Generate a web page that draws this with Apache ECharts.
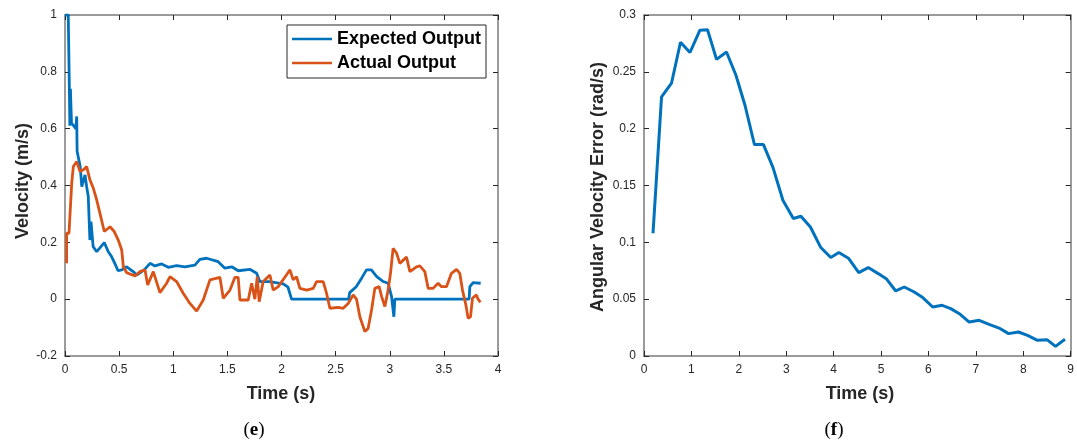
<!DOCTYPE html>
<html>
<head>
<meta charset="utf-8">
<script src="https://cdn.jsdelivr.net/npm/echarts@6/dist/echarts.min.js"></script>
<style>
html,body{margin:0;padding:0;background:#fff;}
#chart{width:1077px;height:441px;}
</style>
</head>
<body>
<div id="chart"></div>
<script>
// ---- Data: panel (e) velocity ----
var expectedTime = [0, 0.03, 0.04, 0.045, 0.05, 0.06, 0.10, 0.108, 0.112, 0.14, 0.155, 0.185, 0.20, 0.215, 0.23, 0.24, 0.26, 0.293, 0.363, 0.40, 0.43, 0.46, 0.49, 0.524, 0.57, 0.63, 0.662, 0.732, 0.785, 0.831, 0.893, 0.954, 1.031, 1.108, 1.20, 1.246, 1.308, 1.415, 1.477, 1.54, 1.60, 1.708, 1.77, 1.80, 1.89, 2.016, 2.06, 2.093, 2.62, 2.63, 2.69, 2.74, 2.785, 2.83, 2.88, 2.94, 2.985, 3.017, 3.038, 3.047, 3.733, 3.74, 3.77, 3.84];
var expectedVel = [1.0, 1.0, 0.75, 0.61, 0.74, 0.62, 0.60, 0.643, 0.52, 0.467, 0.396, 0.437, 0.396, 0.361, 0.208, 0.273, 0.185, 0.167, 0.199, 0.167, 0.15, 0.126, 0.10, 0.103, 0.114, 0.097, 0.085, 0.103, 0.126, 0.117, 0.124, 0.112, 0.118, 0.114, 0.12, 0.14, 0.144, 0.132, 0.109, 0.114, 0.100, 0.105, 0.091, 0.062, 0.062, 0.054, 0.042, 0.0, 0.0, 0.023, 0.044, 0.074, 0.103, 0.103, 0.079, 0.062, 0.056, 0.009, -0.062, 0.0, 0.0, 0.044, 0.058, 0.056];
var actualTime = [0.015, 0.015, 0.037, 0.046, 0.062, 0.077, 0.108, 0.139, 0.17, 0.20, 0.23, 0.262, 0.293, 0.323, 0.363, 0.416, 0.455, 0.492, 0.524, 0.539, 0.57, 0.647, 0.693, 0.739, 0.764, 0.816, 0.877, 0.939, 0.97, 1.031, 1.092, 1.154, 1.216, 1.277, 1.339, 1.431, 1.462, 1.524, 1.57, 1.60, 1.616, 1.693, 1.724, 1.754, 1.776, 1.794, 1.831, 1.893, 1.923, 1.97, 2.031, 2.078, 2.108, 2.139, 2.17, 2.232, 2.293, 2.324, 2.385, 2.416, 2.447, 2.524, 2.57, 2.616, 2.662, 2.693, 2.724, 2.77, 2.80, 2.832, 2.862, 2.902, 2.925, 2.955, 2.985, 3.007, 3.031, 3.063, 3.093, 3.155, 3.186, 3.247, 3.278, 3.324, 3.355, 3.40, 3.447, 3.478, 3.524, 3.57, 3.617, 3.647, 3.672, 3.703, 3.724, 3.746, 3.764, 3.80, 3.816, 3.838];
var actualVel = [0.126, 0.232, 0.232, 0.296, 0.408, 0.467, 0.484, 0.449, 0.455, 0.467, 0.42, 0.39, 0.349, 0.302, 0.238, 0.255, 0.238, 0.208, 0.173, 0.114, 0.093, 0.082, 0.097, 0.103, 0.05, 0.097, 0.023, 0.056, 0.079, 0.062, 0.021, -0.015, -0.042, -0.003, 0.068, 0.077, 0.003, 0.032, 0.077, 0.077, -0.003, -0.003, 0.056, 0.0, 0.079, -0.009, 0.062, 0.085, 0.032, 0.044, 0.077, 0.103, 0.068, 0.079, 0.038, 0.032, 0.038, 0.062, 0.062, 0.021, -0.032, -0.029, -0.032, -0.015, 0.015, 0.0, -0.062, -0.114, -0.103, -0.038, 0.038, 0.044, 0.009, -0.026, 0.032, 0.091, 0.179, 0.162, 0.126, 0.148, 0.097, 0.114, 0.117, 0.097, 0.038, 0.038, 0.056, 0.044, 0.044, 0.091, 0.105, 0.091, 0.032, -0.020, -0.067, -0.062, 0.003, 0.015, 0.0, -0.011];

// ---- Data: panel (f) angular velocity error ----
var errTime = [0.19, 0.37, 0.58, 0.77, 0.97, 1.18, 1.34, 1.53, 1.74, 1.94, 2.13, 2.33, 2.52, 2.72, 2.93, 3.15, 3.31, 3.51, 3.73, 3.94, 4.11, 4.32, 4.53, 4.73, 4.94, 5.11, 5.31, 5.49, 5.70, 5.88, 6.09, 6.29, 6.47, 6.67, 6.86, 7.07, 7.28, 7.49, 7.69, 7.90, 8.09, 8.30, 8.50, 8.68, 8.88];
var errVal = [0.108, 0.228, 0.240, 0.276, 0.267, 0.2866, 0.287, 0.261, 0.2675, 0.247, 0.2206, 0.186, 0.186, 0.166, 0.137, 0.121, 0.123, 0.1135, 0.0954, 0.0866, 0.091, 0.0857, 0.0734, 0.0778, 0.0725, 0.068, 0.0572, 0.0607, 0.0563, 0.0514, 0.0431, 0.0446, 0.0417, 0.0367, 0.0299, 0.0314, 0.0279, 0.0246, 0.0197, 0.0211, 0.0182, 0.0138, 0.0144, 0.0085, 0.0147];

// ---- Axis ticks / labels ----
var velTicks = {min: -0.2, max: 1, interval: 0.2};
var timeTicksE = {min: 0, max: 4, interval: 0.5};
var errTicks = {min: 0, max: 0.3, interval: 0.05};
var timeTicksF = {min: 0, max: 9, interval: 1};
var seriesNames = ['Expected Output', 'Actual Output'];
var axisTitles = {eX: 'Time (s)', eY: 'Velocity (m/s)', fX: 'Time (s)', fY: 'Angular Velocity Error (rad/s)'};
var panelLabels = ['e', 'f'];

function zip(a, b) { return a.map(function (v, i) { return [v, b[i]]; }); }

var FONT = '"Liberation Sans", Arial, Helvetica, sans-serif';
var SERIF = '"Liberation Serif", "DejaVu Serif", serif';
var AXC = '#7a7a7a';
var TXT = '#262626';
function fmt(v) { return String(+(+v).toFixed(3)); }

function mkAxis(gridIndex, pos, t, showLabel) {
  return {
    type: 'value', gridIndex: gridIndex, position: pos,
    min: t.min, max: t.max, interval: t.interval,
    axisLine: {show: true, onZero: false, lineStyle: {color: AXC, width: 1.5}},
    axisTick: {show: true, inside: true, length: 5, lineStyle: {color: TXT, width: 1}},
    axisLabel: {show: showLabel, color: TXT, fontFamily: FONT, fontSize: 12, margin: 8, formatter: fmt},
    splitLine: {show: false}
  };
}

var chart = echarts.init(document.getElementById('chart'), null, {renderer: 'canvas'});
var option = {
  backgroundColor: '#ffffff',
  animation: false,
  grid: [
    {left: 65, top: 15, width: 433, height: 341},
    {left: 644, top: 15, width: 432, height: 341}
  ],
  xAxis: [
    mkAxis(0, 'bottom', timeTicksE, true),
    mkAxis(0, 'top', timeTicksE, false),
    mkAxis(1, 'bottom', timeTicksF, true),
    mkAxis(1, 'top', timeTicksF, false)
  ],
  yAxis: [
    mkAxis(0, 'left', velTicks, true),
    mkAxis(0, 'right', velTicks, false),
    mkAxis(1, 'left', errTicks, true),
    mkAxis(1, 'right', errTicks, false)
  ],
  legend: {
    orient: 'vertical', left: 287, top: 25,
    padding: [5, 5, 6, 5],
    icon: 'rect',
    itemWidth: 40, itemHeight: 2.5, itemGap: 6,
    borderColor: TXT, borderWidth: 1, backgroundColor: '#fff',
    textStyle: {fontFamily: FONT, fontWeight: 'bold', fontSize: 18, lineHeight: 18, color: '#000'},
    data: seriesNames
  },
  series: [
    {name: seriesNames[0], type: 'line', xAxisIndex: 0, yAxisIndex: 0, symbol: 'none',
     data: zip(expectedTime, expectedVel), color: '#0072BD',
     lineStyle: {width: 2.8, color: '#0072BD'}, z: 2},
    {name: seriesNames[1], type: 'line', xAxisIndex: 0, yAxisIndex: 0, symbol: 'none',
     data: zip(actualTime, actualVel), color: '#D95319',
     lineStyle: {width: 2.8, color: '#D95319'}, z: 3},
    {name: 'Angular Velocity Error', type: 'line', xAxisIndex: 2, yAxisIndex: 2, symbol: 'none',
     data: zip(errTime, errVal), color: '#0072BD',
     lineStyle: {width: 3, color: '#0072BD'}}
  ],
  graphic: [
    {type: 'text', x: 281, y: 394, style: {text: axisTitles.eX, font: 'bold 18px ' + FONT, fill: TXT, align: 'center', verticalAlign: 'middle'}},
    {type: 'text', x: 23, y: 181, rotation: Math.PI / 2, style: {text: axisTitles.eY, font: 'bold 18px ' + FONT, fill: TXT, align: 'center', verticalAlign: 'middle'}},
    {type: 'text', x: 860, y: 394, style: {text: axisTitles.fX, font: 'bold 18px ' + FONT, fill: TXT, align: 'center', verticalAlign: 'middle'}},
    {type: 'text', x: 598, y: 187, rotation: Math.PI / 2, style: {text: axisTitles.fY, font: 'bold 18px ' + FONT, fill: TXT, align: 'center', verticalAlign: 'middle'}},
    {type: 'text', x: 254, y: 430, style: {text: '{a|(}{b|' + panelLabels[0] + '}{a|)}', align: 'center', verticalAlign: 'middle',
      rich: {a: {font: '19px ' + SERIF, fill: '#000'}, b: {font: 'bold 19px ' + SERIF, fill: '#000'}}}},
    {type: 'text', x: 834, y: 430, style: {text: '{a|(}{b|' + panelLabels[1] + '}{a|)}', align: 'center', verticalAlign: 'middle',
      rich: {a: {font: '19px ' + SERIF, fill: '#000'}, b: {font: 'bold 19px ' + SERIF, fill: '#000'}}}}
  ]
};
chart.setOption(option);
</script>
</body>
</html>
